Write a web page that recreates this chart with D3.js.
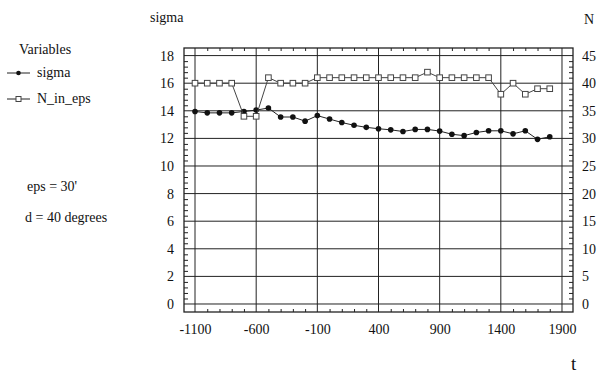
<!DOCTYPE html>
<html><head><meta charset="utf-8">
<script src="https://cdn.jsdelivr.net/npm/d3@7"></script>
<style>body{margin:0;background:#fff}svg text{fill:#111}</style>
</head><body><svg id="c" width="598" height="374"></svg>
<script>
const years = d3.range(-1100, 1801, 100);
const sigma = [13.95,13.85,13.85,13.85,13.95,14.05,14.2,13.55,13.55,13.25,13.65,13.4,13.15,12.95,12.8,12.7,12.62,12.5,12.65,12.65,12.53,12.3,12.2,12.43,12.55,12.55,12.33,12.55,11.93,12.12];
const nInEps = [40,40,40,40,34,34,41,40,40,40,41,41,41,41,41,41,41,41,41,42,41,41,41,41,41,38,40,38,39,39];
const xTicks = [-1100,-600,-100,400,900,1400,1900];
const yLeftTicks = d3.range(0,19,2);
const yRightTicks = d3.range(0,46,5);

const FONT = "'Times New Roman', Tinos, 'Liberation Serif', 'DejaVu Serif', 'Noto Serif', serif";
const svg = d3.select("#c").style("font-family", FONT);
const L=184, R=573, T=48, B=312;
const x = d3.scaleLinear().domain([-1190,1990]).range([L,R]);
const yl = d3.scaleLinear().domain([-0.58,18.55]).range([B,T]);
const yr = d3.scaleLinear().domain([-0.58*2.5,18.55*2.5]).range([B,T]);
const stroke="#222";
const fmt = d=>String(d);

// gridlines
const g = svg.append("g");
g.selectAll("line.v").data(xTicks).join("line")
 .attr("x1",d=>x(d)).attr("x2",d=>x(d)).attr("y1",T).attr("y2",B).attr("stroke",stroke).attr("stroke-width",1);
g.selectAll("line.h").data(yLeftTicks).join("line")
 .attr("y1",d=>yl(d)).attr("y2",d=>yl(d)).attr("x1",L).attr("x2",R).attr("stroke",stroke).attr("stroke-width",1);
// frame
svg.append("rect").attr("x",L).attr("y",T).attr("width",R-L).attr("height",B-T).attr("fill","none").attr("stroke",stroke).attr("stroke-width",1.3);

// minor ticks
const xm = d3.range(-1100,1901,100).filter(v=>!xTicks.includes(v));
svg.append("g").attr("transform",`translate(0,${B})`).call(d3.axisBottom(x).tickValues(xm).tickSize(-3).tickFormat("")).call(s=>s.select(".domain").remove());
svg.append("g").attr("transform",`translate(0,${T})`).call(d3.axisTop(x).tickValues(xm).tickSize(-3).tickFormat("")).call(s=>s.select(".domain").remove());
const ylm = d3.range(0,18.01,0.4).filter(v=>Math.abs(v/2-Math.round(v/2))>0.01);
svg.append("g").attr("transform",`translate(${L},0)`).call(d3.axisLeft(yl).tickValues(ylm).tickSize(-4).tickFormat("")).call(s=>s.select(".domain").remove());
const yrm = d3.range(0,46,1).filter(v=>v%5!==0);
svg.append("g").attr("transform",`translate(${R},0)`).call(d3.axisRight(yr).tickValues(yrm).tickSize(-4).tickFormat("")).call(s=>s.select(".domain").remove());
svg.selectAll(".tick line").attr("stroke",stroke);

// tick labels
const styleAx = s=>{s.select(".domain").remove();s.attr("font-family",null).attr("font-size",14);s.selectAll("text").attr("fill","#111").style("font-family",FONT);};
svg.append("g").attr("transform",`translate(${L},0)`).call(d3.axisLeft(yl).tickValues(yLeftTicks).tickFormat(fmt).tickSize(0).tickPadding(10)).call(styleAx);
svg.append("g").attr("transform",`translate(${R},0)`).call(d3.axisRight(yr).tickValues(yRightTicks).tickFormat(fmt).tickSize(0).tickPadding(9)).call(styleAx);
svg.append("g").attr("transform",`translate(0,${B})`).call(d3.axisBottom(x).tickValues(xTicks).tickFormat(fmt).tickSize(0).tickPadding(12)).call(styleAx);

// series
const line = (ys)=>d3.line().x((d,i)=>x(years[i])).y(d=>ys(d));
svg.append("path").datum(sigma).attr("d",line(yl)).attr("fill","none").attr("stroke",stroke).attr("stroke-width",1);
svg.selectAll("circle.s").data(sigma).join("circle").attr("cx",(d,i)=>x(years[i])).attr("cy",d=>yl(d)).attr("r",2.8).attr("fill","#111");
svg.append("path").datum(nInEps).attr("d",line(yr)).attr("fill","none").attr("stroke","#444").attr("stroke-width",1);
svg.selectAll("rect.n").data(nInEps).join("rect").attr("x",(d,i)=>x(years[i])-2.8).attr("y",d=>yr(d)-2.8).attr("width",5.6).attr("height",5.6).attr("fill","#fff").attr("stroke","#444").attr("stroke-width",1);

// titles
const txt = (x0,y0,s,t)=>svg.append("text").attr("x",x0).attr("y",y0).attr("font-size",s).style("font-family",FONT).text(t);
txt(150,22,14,"sigma");
txt(584,24,14,"N");
txt(571,370,19,"t");

// legend
txt(19,54,14,"Variables");
const lg = [{n:"sigma",y:73,t:"c"},{n:"N_in_eps",y:99,t:"s"}];
lg.forEach(d=>{
  svg.append("line").attr("x1",7).attr("x2",30).attr("y1",d.y).attr("y2",d.y).attr("stroke",stroke);
  if(d.t==="c") svg.append("circle").attr("cx",18.5).attr("cy",d.y).attr("r",2.3).attr("fill","#111");
  else svg.append("rect").attr("x",16).attr("y",d.y-2.5).attr("width",5).attr("height",5).attr("fill","#fff").attr("stroke","#444");
  txt(37,d.y+4,14,d.n);
});
txt(27,191,14,"eps = 30'");
txt(25,222,14,"d = 40 degrees");
</script></body></html>
